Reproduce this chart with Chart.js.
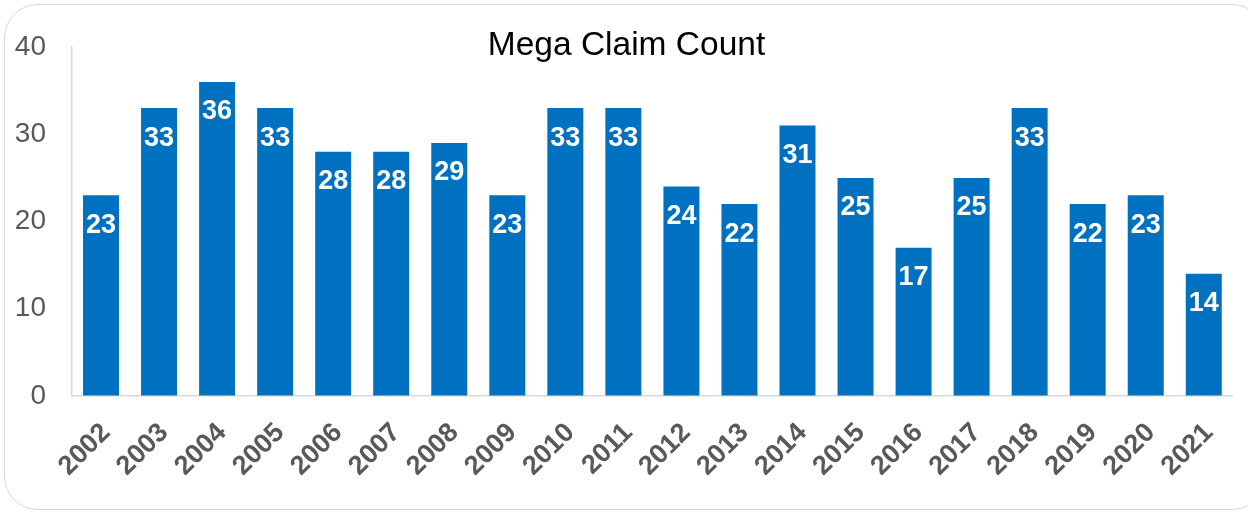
<!DOCTYPE html>
<html>
<head>
<meta charset="utf-8">
<script src="https://cdn.jsdelivr.net/npm/chart.js@4"></script>
<style>
  html, body { margin: 0; padding: 0; background: #ffffff; overflow: hidden; }
  #wrap { position: relative; width: 1248px; height: 513px; overflow: hidden; }
  #frame { position: absolute; left: 4px; top: 4px; width: 1262px; height: 506px;
           border: 1.5px solid #d9d9d9; border-radius: 34px; box-sizing: border-box; }
  canvas { position: absolute; left: 0; top: 0; }
</style>
</head>
<body>
<div id="wrap">
  <div id="frame"></div>
  <canvas id="c" width="1248" height="513"></canvas>
</div>
<script>
const chartTitle = "Mega Claim Count";
const categories = ["2002","2003","2004","2005","2006","2007","2008","2009","2010","2011",
                    "2012","2013","2014","2015","2016","2017","2018","2019","2020","2021"];
const claimCounts = [23,33,36,33,28,28,29,23,33,33,24,22,31,25,17,25,33,22,23,14];
const yTicks = [0,10,20,30,40];

const FONT = "'Liberation Sans', Arial, sans-serif";

const titlePlugin = {
  id: 'overlayTitle',
  afterDraw(chart) {
    const ctx = chart.ctx;
    ctx.save();
    ctx.font = "33.5px " + FONT;
    ctx.fillStyle = "#000000";
    ctx.textAlign = "center";
    ctx.textBaseline = "alphabetic";
    ctx.fillText(chartTitle, 626.5, 55);
    ctx.restore();
  }
};

const valueLabelPlugin = {
  id: 'valueLabels',
  afterDatasetsDraw(chart) {
    const ctx = chart.ctx;
    const meta = chart.getDatasetMeta(0);
    const data = chart.data.datasets[0].data;
    ctx.save();
    ctx.font = "bold 27px " + FONT;
    ctx.fillStyle = "#ffffff";
    ctx.textAlign = "center";
    ctx.textBaseline = "middle";
    meta.data.forEach((bar, i) => {
      ctx.fillText(String(data[i]), bar.x, bar.y + 30);
    });
    ctx.restore();
  }
};

new Chart(document.getElementById('c'), {
  type: 'bar',
  data: {
    labels: categories,
    datasets: [{
      data: claimCounts,
      backgroundColor: '#0070C0',
      borderWidth: 0,
      categoryPercentage: 1.0,
      barPercentage: 0.62
    }]
  },
  options: {
    responsive: false,
    animation: false,
    devicePixelRatio: 1,
    layout: { padding: { top: 47, right: 13, left: 0, bottom: 0 } },
    plugins: {
      legend: { display: false },
      title: { display: false },
      tooltip: { enabled: false }
    },
    scales: {
      x: {
        grid: { display: true, color: 'transparent', drawTicks: false },
        border: { display: true, color: '#d9d9d9', width: 1.5 },
        ticks: {
          color: '#595959',
          font: { family: FONT, size: 27, weight: 'bold' },
          minRotation: 45, maxRotation: 45,
          padding: 21,
          labelOffset: 5,
          autoSkip: false
        },
        afterFit(scale) { scale.height = 117; }
      },
      y: {
        min: 0, max: 40,
        afterBuildTicks(scale) { scale.ticks = yTicks.map(v => ({ value: v })); },
        grid: { display: true, color: 'transparent', drawTicks: false },
        border: { display: true, color: '#d9d9d9', width: 1.5 },
        ticks: {
          color: '#595959',
          font: { family: FONT, size: 28 },
          padding: 26
        },
        afterFit(scale) { scale.width = 72; }
      }
    }
  },
  plugins: [titlePlugin, valueLabelPlugin]
});
</script>
</body>
</html>
